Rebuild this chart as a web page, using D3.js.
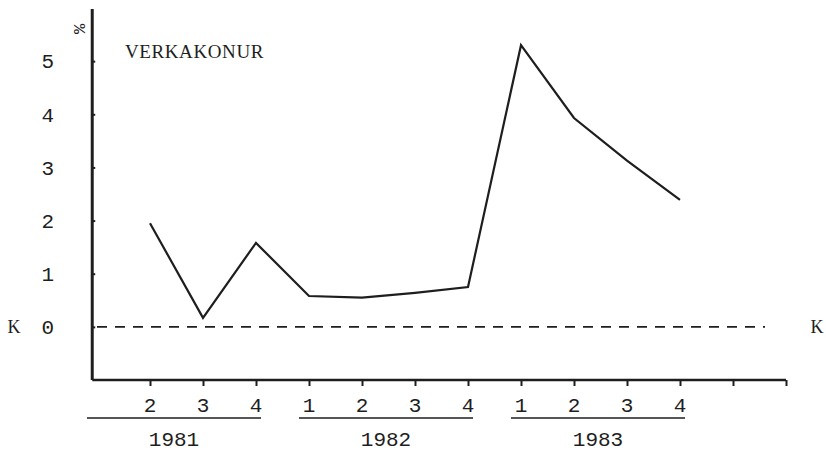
<!DOCTYPE html>
<html><head><meta charset="utf-8">
<script src="https://cdn.jsdelivr.net/npm/d3@7"></script>
<style>
body{margin:0;background:#fff;}
text{fill:#1e1e1e;}
</style></head>
<body><svg id="c" width="826" height="453"></svg>
<script>
// Data (quarter index: 0 = 1981 Q1)
const quarterLabels = ["2","3","4","1","2","3","4","1","2","3","4"];
const quarterIndex  = [1,2,3,4,5,6,7,8,9,10,11];
const values        = [1.95,0.17,1.58,0.58,0.55,0.64,0.75,5.30,3.93,3.13,2.39];
const yTicks        = [0,1,2,3,4,5];
const years         = ["1981","1982","1983"];
const yearStart     = [0,4,8];
const yearEnd       = [3,7,11];
const title = "VERKAKONUR";

const mono = "'Liberation Mono','DejaVu Sans Mono',monospace";
const serif = "'Liberation Serif','DejaVu Serif',serif";
const svg = d3.select("#c");
const x = d3.scaleLinear().domain([0,13]).range([97,786]);
const y = d3.scaleLinear().domain([-1,6]).range([380,8]);
const ink = "#1e1e1e";

// zero dashed line
svg.append("line").attr("x1",x(0)).attr("x2",765).attr("y1",y(0)).attr("y2",y(0))
  .attr("stroke",ink).attr("stroke-width",1.8).attr("stroke-dasharray","10,8");

// y axis
const ya = svg.append("g").attr("transform",`translate(${x(-0.09)},0)`)
  .call(d3.axisLeft(y).tickValues(yTicks).tickSize(-3).tickPadding(0).tickFormat(""));
ya.select(".domain").remove();
ya.selectAll(".tick line").attr("stroke",ink).attr("stroke-width",2);
svg.append("line").attr("x1",x(-0.09)).attr("x2",x(-0.09)).attr("y1",y(5.98)).attr("y2",y(-1))
  .attr("stroke",ink).attr("stroke-width",3);
svg.append("g").selectAll("text").data(yTicks).join("text")
  .attr("x",54).attr("y",d=>y(d)).attr("dy","0.35em").attr("text-anchor","end")
  .style("font-family",mono).style("font-size","21px").text(d=>d);

// x axis
svg.append("line").attr("x1",x(-0.09)).attr("x2",x(13)).attr("y1",y(-1)).attr("y2",y(-1))
  .attr("stroke",ink).attr("stroke-width",2.6);
const xa = svg.append("g").attr("transform",`translate(0,${y(-1)})`)
  .call(d3.axisBottom(x).tickValues(d3.range(1,14)).tickSize(6).tickFormat(""));
xa.select(".domain").remove();
xa.selectAll(".tick line").attr("stroke",ink).attr("stroke-width",2);

// quarter labels
svg.append("g").selectAll("text").data(quarterLabels).join("text")
  .attr("x",(d,i)=>x(quarterIndex[i])).attr("y",412).attr("text-anchor","middle")
  .style("font-family",mono).style("font-size","21px").text(d=>d);

// year groups
years.forEach((yr,i)=>{
  const a = x(yearStart[i])-10, b = x(yearEnd[i])+5;
  svg.append("line").attr("x1",a).attr("x2",b).attr("y1",418).attr("y2",418)
    .attr("stroke",ink).attr("stroke-width",1.6);
  svg.append("text").attr("x",(a+b)/2).attr("y",446).attr("text-anchor","middle")
    .style("font-family",mono).style("font-size","21px").text(yr);
});

// series line
const line = d3.line().x((d,i)=>x(quarterIndex[i])).y(d=>y(d));
svg.append("path").datum(values).attr("d",line).attr("fill","none")
  .attr("stroke",ink).attr("stroke-width",2.2).attr("stroke-linejoin","miter");

// labels
svg.append("text").attr("x",125).attr("y",58)
  .style("font-family",serif).style("font-size","19px").style("letter-spacing","0.6px").text(title);
svg.append("text").attr("transform","translate(79,29) rotate(-90)").attr("text-anchor","middle")
  .attr("dy","0.35em").style("font-family",mono).style("font-size","17px").text("%");
svg.append("text").attr("x",14).attr("y",y(0)).attr("dy","0.35em").attr("text-anchor","middle")
  .style("font-family",serif).style("font-size","18px").text("K");
svg.append("text").attr("x",817).attr("y",y(0)).attr("dy","0.35em").attr("text-anchor","middle")
  .style("font-family",serif).style("font-size","18px").text("K");
</script></body></html>
